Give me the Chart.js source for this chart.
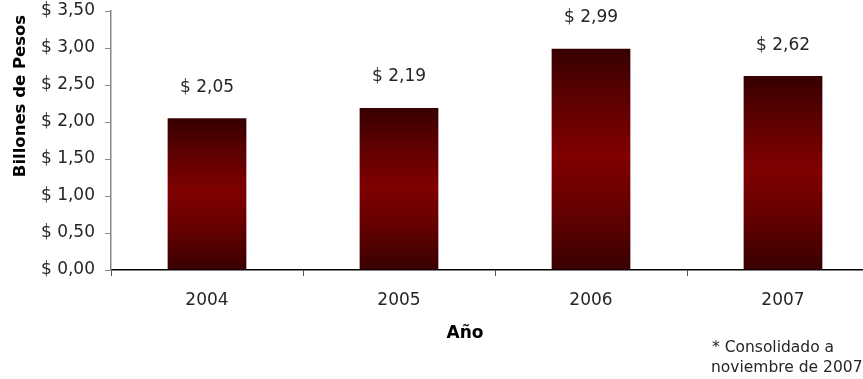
<!DOCTYPE html>
<html>
<head>
<meta charset="utf-8">
<script src="https://cdn.jsdelivr.net/npm/chart.js@4/dist/chart.umd.min.js"></script>
<style>
  html, body { margin: 0; padding: 0; background: #fff; overflow: hidden; }
  #wrap { width: 885px; height: 379px; position: relative; }
</style>
</head>
<body>
<div id="wrap"><canvas id="montos"></canvas></div>
<script>
// datos
var anios = ["2004", "2005", "2006", "2007"];
var billones = [2.05, 2.19, 2.99, 2.62];
var ticksY = [0, 0.5, 1, 1.5, 2, 2.5, 3, 3.5];

var tituloY = "Billones de Pesos";
var tituloX = "Año";
var nota = ["* Consolidado a", "noviembre de 2007"];

var fuente = "'DejaVu Sans', Verdana, sans-serif";
var gris = "#262626";

function pesos(v)
{
    return "$ " + v.toFixed(2).replace(".", ",");
}

//degradado oscuro-rojo-oscuro para cada barra
function colorBarra(ctx)
{
    var chart = ctx.chart;
    var y = chart.scales.y;
    if(!chart.chartArea || !y) return "#800000";
    var arriba = y.getPixelForValue(ctx.raw);
    var abajo = y.getPixelForValue(0);
    if(!isFinite(arriba) || !isFinite(abajo) || abajo - arriba < 1) return "#800000";
    var g = chart.ctx.createLinearGradient(0, arriba, 0, abajo);
    g.addColorStop(0, "#360000");
    g.addColorStop(0.25, "#600000");
    g.addColorStop(0.48, "#800000");
    g.addColorStop(0.72, "#660000");
    g.addColorStop(1, "#380000");
    return g;
}

//dibuja etiquetas de valor, titulos y la nota
var textos = {
    id: "textos",
    afterDatasetsDraw: function(chart)
    {
        var c = chart.ctx;
        var meta = chart.getDatasetMeta(0);
        c.save();
        c.fillStyle = gris;
        c.font = "17px " + fuente;
        c.textAlign = "center";
        c.textBaseline = "middle";
        for(var i = 0; i < meta.data.length; i++)
        {
            var bar = meta.data[i];
            c.fillText(pesos(billones[i]), bar.x, bar.y - 31);
        }

        c.fillStyle = "#000";
        c.font = "bold 17px " + fuente;
        c.fillText(tituloX, 465, 334);

        c.save();
        c.translate(21, 96);
        c.rotate(-Math.PI / 2);
        c.font = "bold 16.5px " + fuente;
        c.fillText(tituloY, 0, 0);
        c.restore();

        c.fillStyle = gris;
        c.font = "15.5px " + fuente;
        c.textAlign = "left";
        c.fillText(nota[0], 712, 348);
        c.fillText(nota[1], 711, 368);
        c.restore();
    }
};

var grafico = new Chart(document.getElementById("montos"), {
    type: "bar",
    data: {
        labels: anios,
        datasets: [{
            data: billones,
            backgroundColor: colorBarra,
            borderWidth: 0,
            barPercentage: 0.41,
            categoryPercentage: 1
        }]
    },
    options: {
        responsive: true,
        maintainAspectRatio: false,
        animation: false,
        layout: { padding: { top: 11, right: 6, left: 0, bottom: 0 } },
        plugins: {
            legend: { display: false },
            tooltip: { enabled: false }
        },
        scales: {
            x: {
                afterFit: function(s) { s.height = 109; },
                grid: {
                    offset: true,
                    drawOnChartArea: false,
                    tickLength: 6,
                    color: "#555"
                },
                border: { color: "#000", width: 1.5 },
                ticks: {
                    color: gris,
                    padding: 14,
                    font: { family: fuente, size: 17 }
                }
            },
            y: {
                min: 0,
                max: 3.5,
                afterFit: function(s) {
                    s.width = 111;
                    s.paddingTop = 0;
                    s.paddingBottom = 0;
                },
                afterBuildTicks: function(s) {
                    s.ticks = ticksY.map(function(v) { return { value: v }; });
                },
                grid: {
                    drawOnChartArea: false,
                    tickLength: 6,
                    color: "#888"
                },
                border: { color: "#888", width: 1.5 },
                ticks: {
                    color: gris,
                    padding: 10,
                    font: { family: fuente, size: 17 },
                    callback: function(v) { return pesos(v); }
                }
            }
        }
    },
    plugins: [textos]
});
</script>
</body>
</html>
